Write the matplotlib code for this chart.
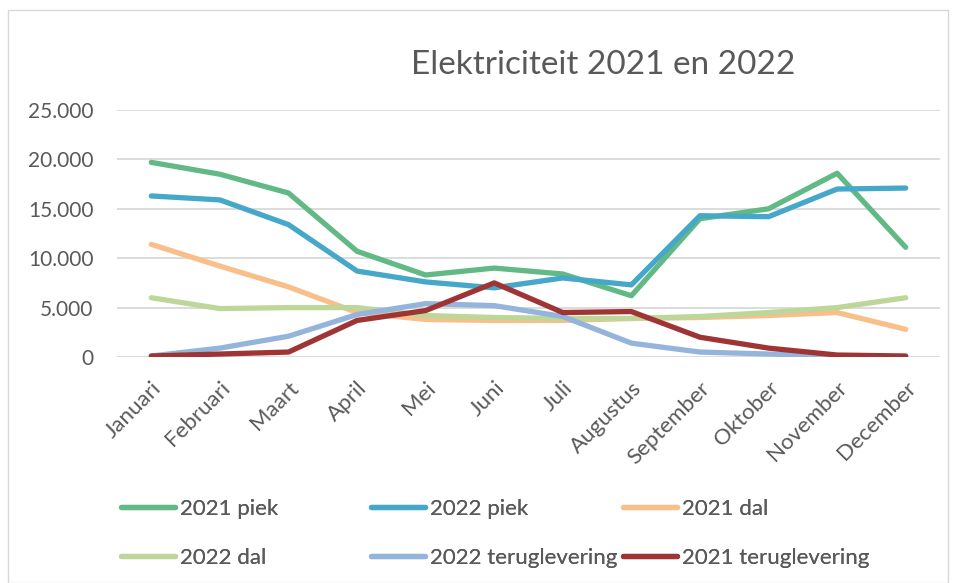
import matplotlib

matplotlib.use("Agg")
import matplotlib.pyplot as plt
from matplotlib.patches import Rectangle
from matplotlib.ticker import FuncFormatter

MONTHS = ["Januari", "Februari", "Maart", "April", "Mei", "Juni", "Juli",
          "Augustus", "September", "Oktober", "November", "December"]

PIEK_2021 = [19700, 18500, 16600, 10700, 8300, 9000, 8400, 6200, 14000, 15000, 18600, 11100]
PIEK_2022 = [16300, 15900, 13400, 8700, 7600, 7000, 8000, 7300, 14300, 14200, 17000, 17100]
DAL_2021 = [11400, 9200, 7100, 4500, 3800, 3700, 3700, 3900, 4000, 4200, 4500, 2800]
DAL_2022 = [6000, 4900, 5000, 5000, 4200, 4000, 3900, 3900, 4100, 4500, 5000, 6000]
TERUG_2022 = [100, 900, 2100, 4300, 5400, 5200, 4100, 1400, 500, 300, 100, 50]
TERUG_2021 = [100, 300, 500, 3700, 4700, 7500, 4500, 4600, 2000, 900, 200, 100]

SERIES = [
    ("2021 piek", PIEK_2021, "#62b985"),
    ("2022 piek", PIEK_2022, "#46a8c8"),
    ("2021 dal", DAL_2021, "#f8bf8a"),
    ("2022 dal", DAL_2022, "#bdd699"),
    ("2022 teruglevering", TERUG_2022, "#94b4dc"),
    ("2021 teruglevering", TERUG_2021, "#9f3434"),
]

plt.rcParams["font.family"] = ["Lato", "DejaVu Sans"]
text_color = "#595959"

fig = plt.figure(figsize=(9.59, 5.83), dpi=100)
fig.patches.append(Rectangle((8 / 959, 0), 940 / 959, 573 / 583, transform=fig.transFigure,
                             fill=False, edgecolor="#d9d9d9", linewidth=1))

ax = fig.add_axes([117 / 959, 1 - 357 / 583, 823 / 959, 247 / 583])
x = list(range(len(MONTHS)))
lines = []
for label, values, color in SERIES:
    (ln,) = ax.plot(x, values, color=color, linewidth=3.8, label=label,
                    solid_capstyle="round", solid_joinstyle="round")
    lines.append(ln)

ax.set_xlim(-0.5, 11.5)
ax.set_ylim(0, 25000)
ax.set_yticks(range(0, 25001, 5000))
ax.yaxis.set_major_formatter(FuncFormatter(lambda v, _: f"{int(v):,}".replace(",", ".")))
ax.set_xticks(x, MONTHS, rotation=45, ha="right", rotation_mode="anchor")
ax.tick_params(axis="y", length=0, labelsize=15, colors=text_color, pad=17)
ax.tick_params(axis="x", length=0, labelsize=16, colors=text_color, pad=15)
ax.grid(axis="y", color="#d9d9d9", linewidth=1.3)
ax.set_axisbelow(True)
for spine in ax.spines.values():
    spine.set_visible(False)

fig.text(603 / 959, 1 - 65 / 583, "Elektriciteit 2021 en 2022", ha="center", va="center",
         fontsize=24, color=text_color)

# legend laid out in fixed-width columns, reading row by row
for col, left in enumerate([121, 371, 623]):
    leg = fig.legend(handles=[lines[col], lines[col + 3]], loc="upper left",
                     bbox_to_anchor=(left / 959, 1 - 499 / 583), ncol=1,
                     frameon=False, fontsize=16, labelcolor=text_color, borderpad=0,
                     borderaxespad=0, handlelength=2.45, handletextpad=0.2,
                     labelspacing=1.3)
    fig.add_artist(leg)

fig.savefig("out.png", dpi=100)
